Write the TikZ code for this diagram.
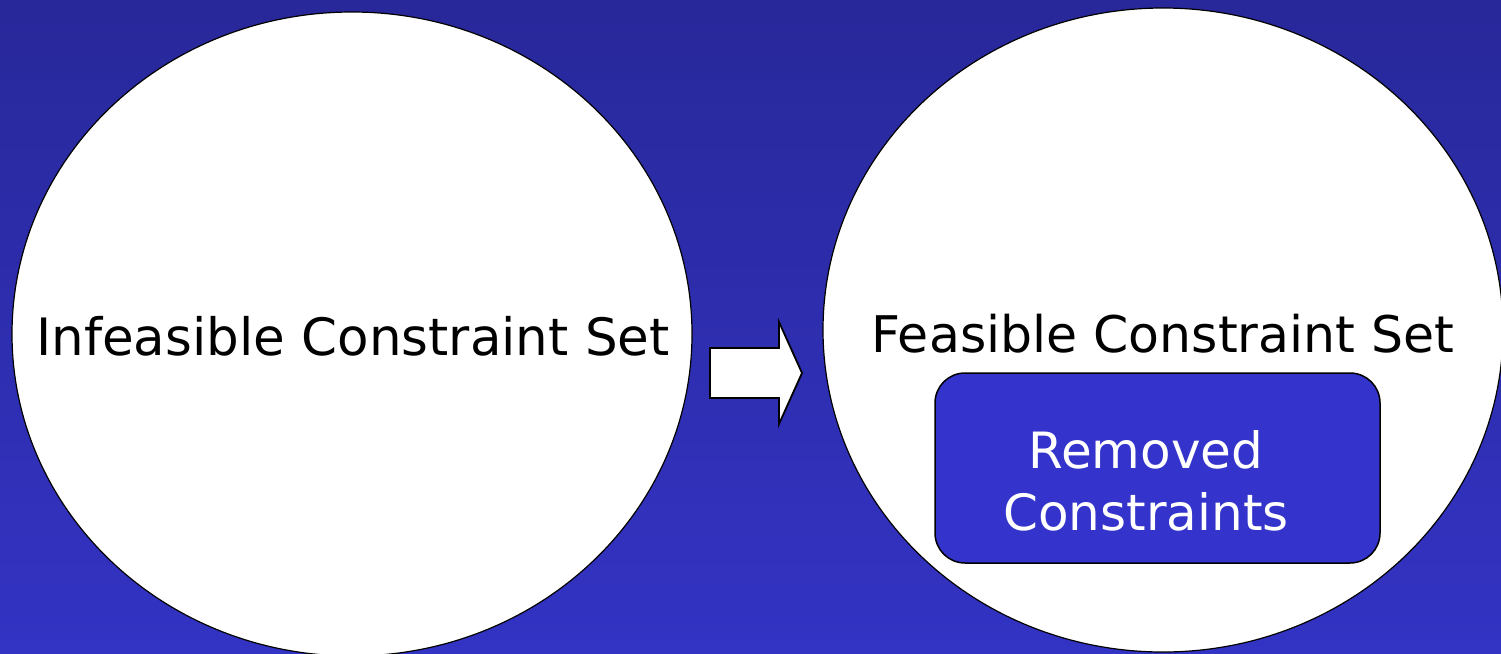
\documentclass[tikz,border=0pt]{standalone}
\usepackage{fontspec}
\setmainfont{DejaVu Sans}
\definecolor{bgtop}{HTML}{28289A}
\definecolor{bgbot}{HTML}{3333C4}
\definecolor{boxblue}{HTML}{3434CC}
\tikzset{
  setshape/.style={draw=black, line width=1.2pt, fill=white},
  label/.style={font=\fontsize{51.5}{60}\selectfont, text=black, inner sep=0pt},
  boxlabel/.style={font=\fontsize{50}{60}\selectfont, text=white, align=center, inner sep=0pt},
  arrowbody/.style={draw=black, line width=1.8pt, fill=white},
}
\begin{document}
\begin{tikzpicture}[x=1pt,y=-1pt]
  % background
  \shade[top color=bgtop, bottom color=bgbot] (0,0) rectangle (1501,653);
  \useasboundingbox (0,0) rectangle (1501,653);
  \begin{scope}
    \clip (0,0) rectangle (1501,653);
    % the two constraint sets
    \draw[setshape] (352,334) ellipse [x radius=340, y radius=322];
    \draw[setshape] (1163,330) ellipse [x radius=340, y radius=322];
  \end{scope}
  % block arrow between the sets
  \draw[arrowbody] (710,348) -- (779,348) -- (779,322) -- (802,373) -- (779,424) -- (779,398) -- (710,398) -- cycle;
  % removed constraints box
  \node[draw=black, line width=1.5pt, fill=boxblue, rounded corners=30pt,
        minimum width=445pt, minimum height=190pt, inner sep=0pt] (rm) at (1157.5,468) {};
  % labels
  \node[label, anchor=base] (inf) at (353,355) {Infeasible Constraint Set};
  \node[label, anchor=base, font=\fontsize{50.5}{60}\selectfont] (fea) at (1163,352) {Feasible Constraint Set};
  \node[boxlabel, anchor=base] (rm1) at (1146,468) {Removed};
  \node[boxlabel, anchor=base] (rm2) at (1146,530) {Constraints};
\end{tikzpicture}
\end{document}
